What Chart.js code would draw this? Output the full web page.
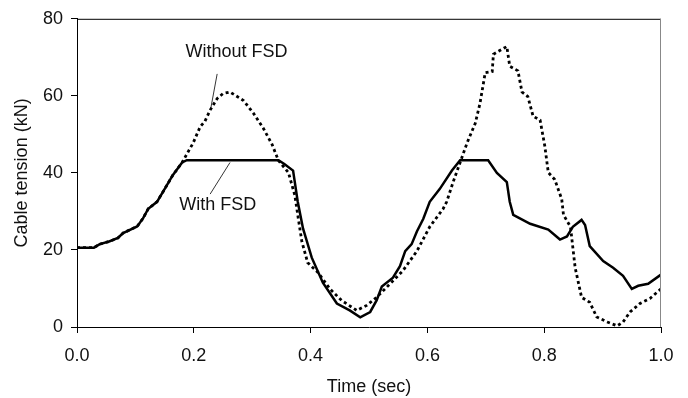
<!DOCTYPE html>
<html>
<head>
<meta charset="utf-8">
<script src="https://cdn.jsdelivr.net/npm/chart.js@4/dist/chart.umd.min.js"></script>
<style>
html,body{margin:0;padding:0;background:#fff;}
#wrap{width:688px;height:398px;position:relative;}
</style>
</head>
<body>
<div id="wrap"><canvas id="c"></canvas></div>
<script>
// With FSD (solid)
const timeWith = [0, 0.029, 0.039, 0.055, 0.070, 0.079, 0.103, 0.113, 0.122, 0.137, 0.154, 0.164, 0.180, 0.188, 0.345, 0.355, 0.370, 0.378, 0.387, 0.402, 0.421, 0.445, 0.467, 0.485, 0.502, 0.513, 0.522, 0.541, 0.553, 0.562, 0.573, 0.582, 0.593, 0.604, 0.621, 0.642, 0.656, 0.704, 0.719, 0.736, 0.741, 0.747, 0.776, 0.807, 0.827, 0.839, 0.849, 0.864, 0.870, 0.878, 0.901, 0.918, 0.935, 0.950, 0.961, 0.978, 1.0];
const tensionWith = [20.6, 20.6, 21.5, 22.2, 23.1, 24.4, 26.1, 28.2, 30.7, 32.5, 36.8, 39.4, 42.7, 43.3, 43.3, 42.3, 40.6, 32.5, 25.6, 18.0, 11.5, 6.1, 4.3, 2.5, 3.9, 6.9, 10.5, 12.8, 15.8, 19.7, 21.5, 24.8, 28.1, 32.5, 35.8, 40.6, 43.3, 43.3, 40.0, 37.6, 32.5, 29.1, 26.8, 25.3, 22.7, 23.5, 26.0, 27.8, 26.5, 21.0, 17.1, 15.4, 13.3, 9.9, 10.7, 11.2, 13.6];
// Without FSD (dotted)
const timeWithout = [0, 0.029, 0.039, 0.055, 0.070, 0.079, 0.103, 0.113, 0.122, 0.137, 0.154, 0.164, 0.180, 0.199, 0.211, 0.219, 0.228, 0.240, 0.250, 0.262, 0.285, 0.302, 0.319, 0.334, 0.345, 0.362, 0.373, 0.379, 0.385, 0.395, 0.413, 0.433, 0.453, 0.479, 0.496, 0.513, 0.536, 0.558, 0.582, 0.604, 0.627, 0.633, 0.644, 0.656, 0.668, 0.682, 0.690, 0.699, 0.711, 0.713, 0.736, 0.741, 0.755, 0.762, 0.772, 0.781, 0.793, 0.801, 0.807, 0.818, 0.830, 0.833, 0.845, 0.853, 0.864, 0.878, 0.890, 0.908, 0.925, 0.935, 0.947, 0.964, 0.981, 1.0];
const tensionWithout = [20.6, 20.6, 21.5, 22.2, 23.1, 24.4, 26.1, 28.2, 30.7, 32.5, 36.8, 39.4, 42.7, 47.8, 52.0, 53.4, 56.3, 59.3, 60.6, 61.0, 58.8, 55.5, 51.6, 47.4, 43.2, 40.1, 34.2, 28.1, 22.2, 16.7, 14.1, 9.9, 6.9, 4.3, 5.6, 7.7, 11.2, 14.6, 19.7, 26.0, 30.7, 32.5, 37.6, 42.7, 47.8, 52.9, 58.0, 66.0, 66.3, 70.8, 72.8, 67.7, 66.5, 61.0, 59.8, 54.7, 53.7, 47.0, 40.1, 38.3, 33.2, 29.1, 26.0, 15.4, 7.7, 6.4, 2.6, 1.3, 0.3, 1.3, 3.9, 6.1, 7.4, 9.9];
const xTicks = [0, 0.2, 0.4, 0.6, 0.8, 1.0];
const yTicks = [0, 20, 40, 60, 80];
// annotation labels (data units): [text, x, y], leader [x1,y1,x2,y2]
const labelWithout = ["Without FSD", 0.273, 71.3];
const leaderWithout = [0.240, 65.7, 0.229, 56.7];
const labelWith = ["With FSD", 0.241, 31.7];
const leaderWith = [0.262, 42.7, 0.228, 34.5];

const FONT = "'Liberation Sans', Arial, sans-serif";
const toXY = (xs, ys) => xs.map((x, i) => ({x: x, y: ys[i]}));

const annot = {
  id: 'annot',
  afterDraw(chart) {
    const {ctx, chartArea: a, scales: {x, y}} = chart;
    ctx.save();
    ctx.lineWidth = 1;
    ctx.strokeStyle = '#000';
    ctx.beginPath();
    ctx.moveTo(a.left, a.top + 0.5);
    ctx.lineTo(a.right, a.top + 0.5);
    ctx.stroke();
    ctx.strokeStyle = '#888';
    ctx.beginPath();
    ctx.moveTo(a.right - 0.5, a.top);
    ctx.lineTo(a.right - 0.5, a.bottom);
    ctx.stroke();
    ctx.strokeStyle = '#000';
    ctx.lineWidth = 0.8;
    [leaderWithout, leaderWith].forEach(l => {
      ctx.beginPath();
      ctx.moveTo(x.getPixelForValue(l[0]), y.getPixelForValue(l[1]));
      ctx.lineTo(x.getPixelForValue(l[2]), y.getPixelForValue(l[3]));
      ctx.stroke();
    });
    ctx.fillStyle = '#111';
    ctx.font = '18px ' + FONT;
    ctx.textAlign = 'center';
    ctx.textBaseline = 'middle';
    [labelWithout, labelWith].forEach(t => {
      ctx.fillText(t[0], x.getPixelForValue(t[1]), y.getPixelForValue(t[2]));
    });
    ctx.restore();
  }
};

new Chart(document.getElementById('c'), {
  type: 'line',
  data: {
    datasets: [
      {label: 'With FSD', data: toXY(timeWith, tensionWith), borderColor: '#000', borderWidth: 2.5, pointRadius: 0, tension: 0, fill: false},
      {label: 'Without FSD', data: toXY(timeWithout, tensionWithout), borderColor: '#000', borderWidth: 2.8, borderDash: [3, 3], pointRadius: 0, tension: 0, fill: false}
    ]
  },
  options: {
    responsive: true,
    maintainAspectRatio: false,
    animation: false,
    layout: {padding: {left: 0, top: 14, right: 27, bottom: 0}},
    plugins: {legend: {display: false}, tooltip: {enabled: false}},
    scales: {
      x: {
        type: 'linear', min: 0, max: 1,
        afterFit: s => { s.height = 71; },
        afterBuildTicks: s => { s.ticks = xTicks.map(v => ({value: v})); },
        grid: {display: true, drawOnChartArea: false, drawTicks: true, tickLength: 6, color: '#000'},
        border: {display: true, color: '#000', width: 1},
        ticks: {color: '#111', font: {family: FONT, size: 18}, padding: 12, maxRotation: 0, callback: v => v.toFixed(1)},
        title: {display: true, text: 'Time (sec)', color: '#111', font: {family: FONT, size: 18}, padding: {top: 0, bottom: 0}}
      },
      y: {
        type: 'linear', min: 0, max: 80,
        afterFit: s => { s.width = 77; },
        afterBuildTicks: s => { s.ticks = yTicks.map(v => ({value: v})); },
        grid: {display: true, drawOnChartArea: false, drawTicks: true, tickLength: 6, color: '#000'},
        border: {display: true, color: '#000', width: 1},
        ticks: {color: '#111', font: {family: FONT, size: 18}, padding: 8},
        title: {display: true, text: 'Cable tension (kN)', color: '#111', font: {family: FONT, size: 18}, padding: {top: 11, bottom: 0}}
      }
    }
  },
  plugins: [annot]
});
</script>
</body>
</html>
